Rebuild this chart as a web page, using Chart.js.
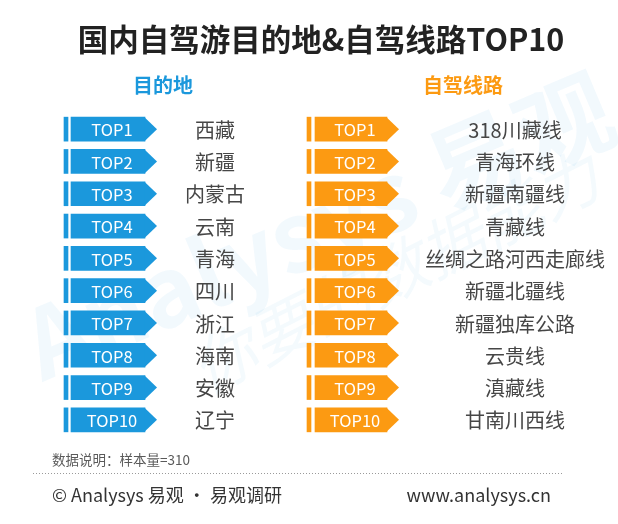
<!DOCTYPE html>
<html lang="zh-CN">
<head>
    <meta charset="UTF-8">
    <title>国内自驾游目的地&自驾线路TOP10</title>
    <script src="https://cdn.jsdelivr.net/npm/chart.js"></script>
    <style>
        body {
            margin: 0;
            padding: 0;
            background-color: #ffffff;
        }
        #rankChart {
            display: block;
        }
    </style>
</head>
<body>
    <canvas id="rankChart" width="618" height="524"></canvas>

    <script>
        // Ranking data
        var ranks = ['TOP1', 'TOP2', 'TOP3', 'TOP4', 'TOP5', 'TOP6', 'TOP7', 'TOP8', 'TOP9', 'TOP10'];
        var destinations = ['西藏', '新疆', '内蒙古', '云南', '青海', '四川', '浙江', '海南', '安徽', '辽宁'];
        var routes = ['318川藏线', '青海环线', '新疆南疆线', '青藏线', '丝绸之路河西走廊线',
                      '新疆北疆线', '新疆独库公路', '云贵线', '滇藏线', '甘南川西线'];

        var titleText = '国内自驾游目的地&自驾线路TOP10';
        var leftHeader = '目的地';
        var rightHeader = '自驾线路';
        var noteText = '数据说明：样本量=310';
        var footerLeft = '© Analysys 易观 · 易观调研';
        var footerRight = 'www.analysys.cn';

        var BLUE = '#1b98dc';
        var ORANGE = '#fc9a12';
        var FONT = '"Noto Sans CJK SC", "Noto Sans", sans-serif';

        // horizontal layout of the tags (x scale runs in page pixels)
        var tagLayout = {
            blueStub: [64, 68], blueBody: [71, 145],
            orangeStub: [307, 311], orangeBody: [315, 387],
            tip: 12, leftName: 215, rightName: 515
        };

        function rowsOf(range) {
            return ranks.map(function () { return range; });
        }

        var decorPlugin = {
            id: 'decor',
            beforeDatasetsDraw: function (chart) {
                var ctx = chart.ctx;
                // faint watermark
                ctx.save();
                ctx.translate(318, 226);
                ctx.rotate(-0.4);
                ctx.font = 'bold 96px ' + FONT;
                ctx.textAlign = 'center';
                ctx.textBaseline = 'middle';
                ctx.fillStyle = 'rgba(30,150,220,0.06)';
                ctx.fillText('Analysys 易观', 0, 0);
                ctx.restore();

                ctx.save();
                ctx.translate(395, 272);
                ctx.rotate(-0.47);
                ctx.font = 'italic 64px ' + FONT;
                ctx.textAlign = 'center';
                ctx.textBaseline = 'middle';
                ctx.fillStyle = 'rgba(30,150,220,0.05)';
                ctx.fillText('你要的数据能力', 0, 0);
                ctx.restore();
            },
            afterDatasetsDraw: function (chart) {
                var ctx = chart.ctx;
                ctx.save();

                // arrow tips + tag labels
                [[1, BLUE], [3, ORANGE]].forEach(function (pair) {
                    var meta = chart.getDatasetMeta(pair[0]);
                    meta.data.forEach(function (bar, i) {
                        var top = bar.y - bar.height / 2;
                        var bottom = bar.y + bar.height / 2;
                        ctx.fillStyle = pair[1];
                        ctx.beginPath();
                        ctx.moveTo(bar.x - 0.5, top);
                        ctx.lineTo(bar.x + tagLayout.tip, bar.y);
                        ctx.lineTo(bar.x - 0.5, bottom);
                        ctx.closePath();
                        ctx.fill();

                        ctx.fillStyle = '#ffffff';
                        ctx.font = '16.5px ' + FONT;
                        ctx.textAlign = 'center';
                        ctx.textBaseline = 'middle';
                        ctx.fillText(ranks[i], (bar.base + bar.x) / 2 + 4, bar.y + 1);

                        ctx.fillStyle = '#464646';
                        ctx.font = '20px ' + FONT;
                        var name = pair[0] === 1 ? destinations[i] : routes[i];
                        var nx = pair[0] === 1 ? tagLayout.leftName : tagLayout.rightName;
                        ctx.fillText(name, nx, bar.y + 1);
                    });
                });

                // title and column headers
                ctx.textAlign = 'center';
                ctx.textBaseline = 'middle';
                ctx.fillStyle = '#222222';
                ctx.font = 'bold 30.5px ' + FONT;
                ctx.fillText(titleText, 321, 39);

                ctx.font = 'bold 20px ' + FONT;
                ctx.fillStyle = BLUE;
                ctx.fillText(leftHeader, 163, 85);
                ctx.fillStyle = ORANGE;
                ctx.fillText(rightHeader, 463, 85);

                // note, dotted rule, footer
                ctx.textAlign = 'left';
                ctx.fillStyle = '#5a5a5a';
                ctx.font = '13.5px ' + FONT;
                ctx.fillText(noteText, 52, 460);

                ctx.strokeStyle = '#9a9a9a';
                ctx.lineWidth = 1;
                ctx.setLineDash([1, 2]);
                ctx.beginPath();
                ctx.moveTo(33, 473.5);
                ctx.lineTo(563, 473.5);
                ctx.stroke();
                ctx.setLineDash([]);

                ctx.fillStyle = '#333333';
                ctx.font = '18px ' + FONT;
                ctx.fillText(footerLeft, 52, 495);
                ctx.textAlign = 'right';
                ctx.fillText(footerRight, 551, 495);

                ctx.restore();
            }
        };

        var ctx = document.getElementById('rankChart').getContext('2d');
        var rankChart = new Chart(ctx, {
            type: 'bar',
            data: {
                labels: ranks,
                datasets: [
                    { data: rowsOf(tagLayout.blueStub), backgroundColor: BLUE },
                    { data: rowsOf(tagLayout.blueBody), backgroundColor: BLUE },
                    { data: rowsOf(tagLayout.orangeStub), backgroundColor: ORANGE },
                    { data: rowsOf(tagLayout.orangeBody), backgroundColor: ORANGE }
                ]
            },
            options: {
                indexAxis: 'y',
                responsive: false,
                animation: false,
                grouped: false,
                barThickness: 24,
                borderSkipped: false,
                layout: { padding: { top: 113, bottom: 88, left: 0, right: 0 } },
                scales: {
                    x: { type: 'linear', min: 0, max: 618, display: false },
                    y: { type: 'category', display: false }
                },
                plugins: {
                    legend: { display: false },
                    tooltip: { enabled: false }
                }
            },
            plugins: [decorPlugin]
        });
    </script>
</body>
</html>
